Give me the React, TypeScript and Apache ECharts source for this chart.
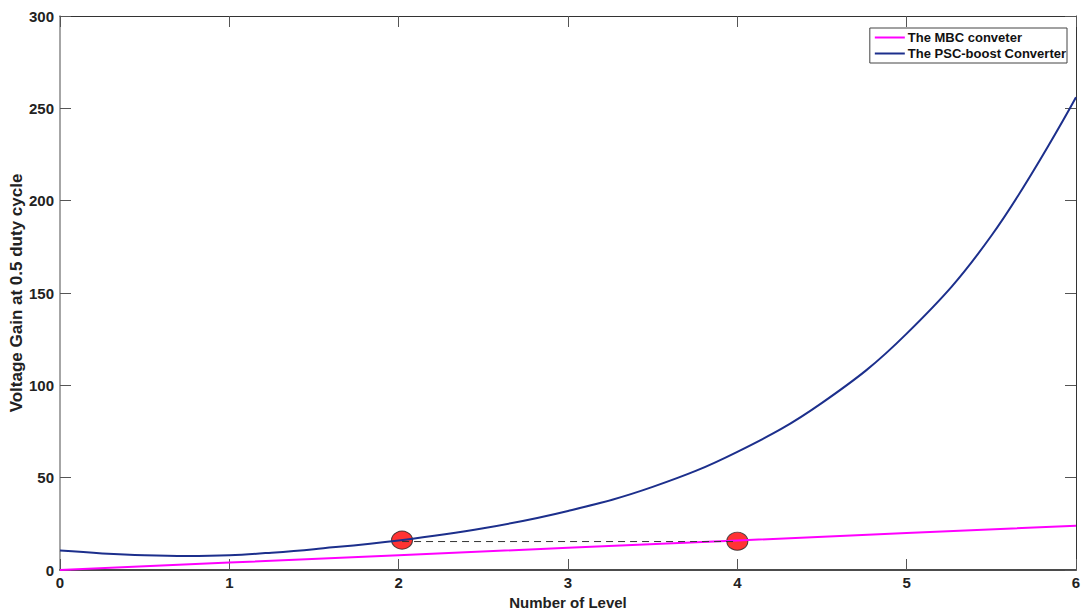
import React, { useEffect, useRef } from "react";
import * as echarts from "echarts";

const levels = [0, 0.25, 0.5, 0.75, 1, 1.25, 1.5, 2, 2.5, 3, 3.5, 4, 4.5, 5, 5.5, 6];
const pscGain = [10.5, 9.0, 8.0, 7.6, 8.0, 9.4, 11.3, 16, 22.6, 32, 45, 64, 90.5, 128, 181, 256];
const mbcLevels = [0, 1, 2, 3, 4, 5, 6];
const mbcGain = [0, 4, 8, 12, 16, 20, 24];
const markerPoints = [[2.02, 16.2], [4.0, 15.6]];
const dashedPoints = [[2.02, 15.4], [4.0, 15.4]];
const seriesNames = ["The MBC conveter", "The PSC-boost Converter"];

const FONT = "'Liberation Sans', Arial, sans-serif";

export default function App() {
  const ref = useRef<HTMLDivElement>(null);
  useEffect(() => {
    const chart = echarts.init(ref.current!, undefined, { renderer: "svg" });
    const axisLabel = { fontFamily: FONT, fontWeight: "bold", fontSize: 15, color: "#222" };
    chart.setOption({
      animation: false,
      backgroundColor: "#fff",
      grid: { left: 60, right: 5, top: 16, bottom: 45, outerBoundsMode: "none", containLabel: false },
      legend: {
        data: seriesNames,
        orient: "vertical",
        right: 14,
        top: 28,
        itemGap: 3,
        itemWidth: 30,
        itemHeight: 2,
        padding: [3, 1, 3, 5],
        borderColor: "#444",
        borderWidth: 1,
        backgroundColor: "#fff",
        icon: "rect",
        textStyle: { fontFamily: FONT, fontWeight: "bold", fontSize: 13, color: "#111", padding: [0, 0, 0, -2] },
      },
      xAxis: [
        {
          type: "value",
          min: 0,
          max: 6,
          interval: 1,
          name: "Number of Level",
          nameLocation: "middle",
          nameGap: 25,
          nameMoveOverlap: false,
          nameTextStyle: { fontFamily: FONT, fontWeight: "bold", fontSize: 15, color: "#222" },
          axisLine: { show: true, onZero: false, lineStyle: { color: "#111", width: 1.5 } },
          axisTick: { show: true, inside: true, length: 11, lineStyle: { color: "#555" } },
          axisLabel: { ...axisLabel, margin: 5 },
          splitLine: { show: false },
        },
        {
          type: "value",
          position: "top",
          min: 0,
          max: 6,
          interval: 1,
          axisLine: { show: true, onZero: false, lineStyle: { color: "#333", width: 1 } },
          axisTick: { show: true, inside: true, length: 11, lineStyle: { color: "#555" } },
          axisLabel: { show: false },
          splitLine: { show: false },
        },
      ],
      yAxis: [
        {
          type: "value",
          min: 0,
          max: 300,
          interval: 50,
          name: "Voltage Gain at 0.5 duty cycle",
          nameLocation: "middle",
          nameGap: 35,
          nameMoveOverlap: false,
          nameTextStyle: { fontFamily: FONT, fontWeight: "bold", fontSize: 17, color: "#222" },
          axisLine: { show: true, onZero: false, lineStyle: { color: "#888", width: 1.5 } },
          axisTick: { show: true, inside: true, length: 11, lineStyle: { color: "#555" } },
          axisLabel: { ...axisLabel, margin: 6 },
          splitLine: { show: false },
        },
        {
          type: "value",
          position: "right",
          min: 0,
          max: 300,
          interval: 50,
          axisLine: { show: true, onZero: false, lineStyle: { color: "#333", width: 1 } },
          axisTick: { show: true, inside: true, length: 11, lineStyle: { color: "#555" } },
          axisLabel: { show: false },
          splitLine: { show: false },
        },
      ],
      series: [
        {
          name: seriesNames[0],
          type: "line",
          data: mbcLevels.map((x, i) => [x, mbcGain[i]]),
          showSymbol: false,
          symbol: "none",
          lineStyle: { color: "#ff00ff", width: 2 },
          itemStyle: { color: "#ff00ff" },
          z: 3,
        },
        {
          name: seriesNames[1],
          type: "line",
          data: levels.map((x, i) => [x, pscGain[i]]),
          smooth: 0.4,
          showSymbol: false,
          symbol: "none",
          lineStyle: { color: "#1c2f8c", width: 2 },
          itemStyle: { color: "#1c2f8c" },
          z: 3,
        },
        {
          name: "dash",
          type: "line",
          data: dashedPoints,
          showSymbol: false,
          symbol: "none",
          lineStyle: { color: "#333", width: 1, type: [7, 5] },
          z: 4,
        },
        {
          name: "markers",
          type: "scatter",
          data: markerPoints,
          symbol: "circle",
          symbolSize: [21, 18],
          itemStyle: { color: "#ff0000", borderColor: "#222", borderWidth: 1 },
          z: 2,
        },
      ],
    });
    return () => chart.dispose();
  }, []);
  return <div ref={ref} style={{ width: 1081, height: 615, position: "absolute", left: 0, top: 0 }} />;
}
